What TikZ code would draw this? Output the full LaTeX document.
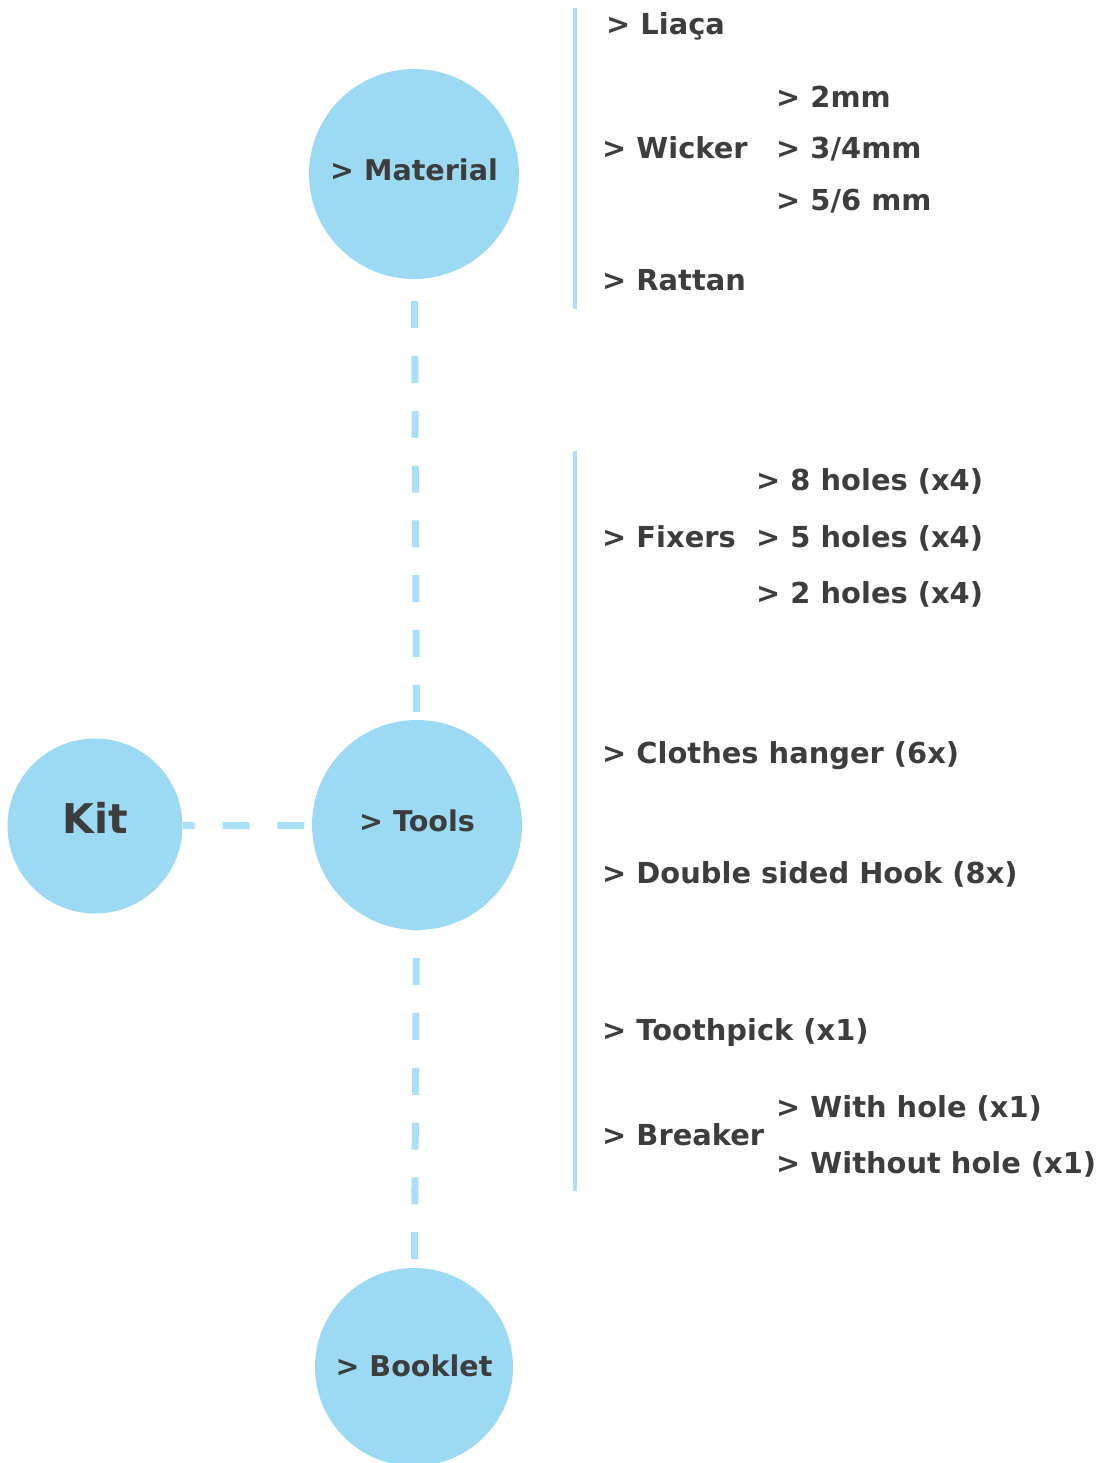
\documentclass[tikz,border=0pt]{standalone}
\usepackage{fontspec}
\setmainfont{DejaVu Sans}
\usetikzlibrary{positioning}

\definecolor{bubble}{RGB}{155,218,242}
\definecolor{rulecol}{RGB}{170,224,247}
\definecolor{ink}{RGB}{61,61,61}

\begin{document}
\begin{tikzpicture}[x=1pt,y=-1pt,
  hub/.style={circle,fill=bubble,inner sep=0pt,text=ink,text depth=8pt,
    font=\bfseries\fontsize{28.6}{30}\selectfont},
  item/.style={anchor=base west,inner sep=0pt,text=ink,
    font=\bfseries\fontsize{28.9}{30}\selectfont},
  link/.style={draw=rulecol,line width=7pt,dash pattern=on 27pt off 27.8pt}]
\useasboundingbox (0,0) rectangle (1106,1463);

% the four circles
\node[hub,minimum size=175pt,text depth=16pt,
  font=\bfseries\fontsize{41}{44}\selectfont] (kit) at (95,826) {Kit};
\node[hub,minimum size=210pt] (material) at (414,174) {> Material};
\node[hub,minimum size=210pt] (tools) at (417,825) {> Tools};
\node[hub,minimum size=198pt,text depth=2pt] (booklet) at (414,1367) {> Booklet};

% dashed links between them
\draw[link,dash phase=15pt] (kit) -- (tools);
\draw[link,dash phase=32.8pt] (material) -- (tools);
\draw[link,dash phase=26.8pt] (tools) -- (booklet);

% side bars
\fill[rulecol] (572.5,8) rectangle (577,308.5);
\fill[rulecol] (572.5,451) rectangle (577,1191);

% material list
\node[item] (liaca) at (606,35) {> Liaça};
\node[item] (wicker) at (602,159) {> Wicker};
\node[item] (w2) at (776,108) {> 2mm};
\node[item] (w34) at (776,159) {> 3/4mm};
\node[item] (w56) at (776,211) {> 5/6 mm};
\node[item] (rattan) at (602,290) {> Rattan};

% tools list
\node[item] (fixers) at (602,547) {> Fixers};
\node[item] (h8) at (756,490) {> 8 holes (x4)};
\node[item] (h5) at (756,547) {> 5 holes (x4)};
\node[item] (h2) at (756,603) {> 2 holes (x4)};
\node[item] (hanger) at (602,763) {> Clothes hanger (6x)};
\node[item] (hook) at (602,883) {> Double sided Hook (8x)};
\node[item] (pick) at (602,1040) {> Toothpick (x1)};
\node[item] (breaker) at (602,1145) {> Breaker};
\node[item] (withh) at (776,1117) {> With hole (x1)};
\node[item] (without) at (776,1173) {> Without hole (x1)};
\end{tikzpicture}
\end{document}
